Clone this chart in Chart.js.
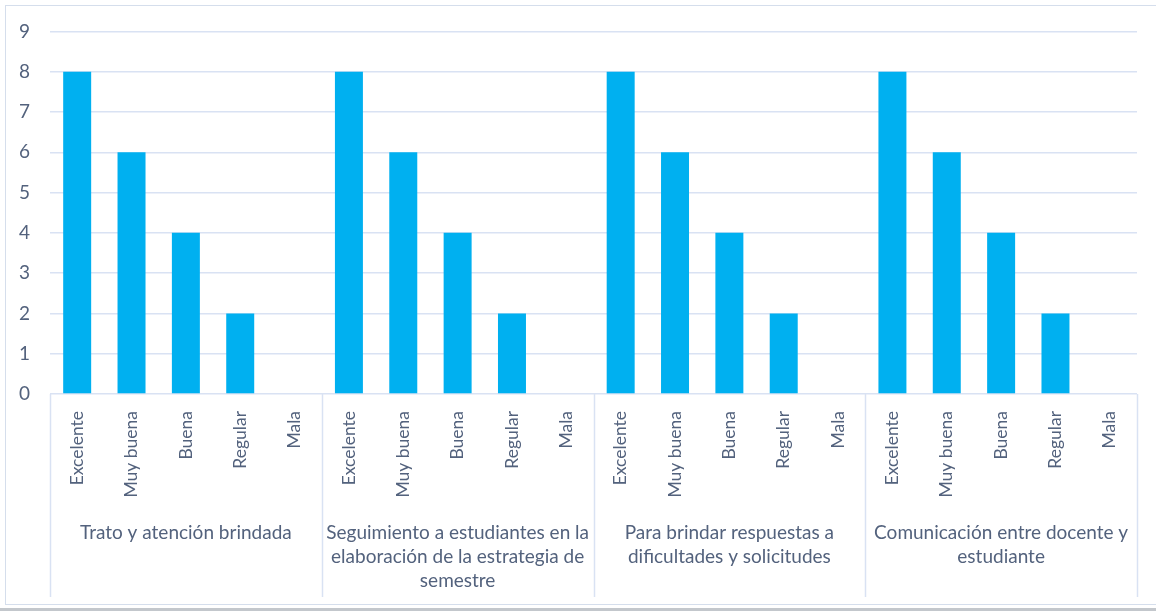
<!DOCTYPE html>
<html>
<head>
<meta charset="utf-8">
<script src="https://cdn.jsdelivr.net/npm/chart.js@4.4.1/dist/chart.umd.min.js"></script>
<style>
  html, body { margin: 0; padding: 0; background: #ffffff; }
  #wrap { position: relative; width: 1156px; height: 611px; overflow: hidden; background: #fff; }
  #frame { position: absolute; left: 5px; top: 5px; width: 1160px; height: 600px;
           border: 1px solid #d5deec; box-sizing: border-box; pointer-events: none; }
  #shadow { position: absolute; left: 0; top: 608px; width: 1156px; height: 3px; background: #c3c7cc; }
  canvas { position: absolute; left: 0; top: 0; }
</style>
</head>
<body>
<div id="wrap">
  <canvas id="c" width="1156" height="611"></canvas>
  <div id="frame"></div>
  <div id="shadow"></div>
</div>
<script>
// ---- data ----
const ratings = ["Excelente", "Muy buena", "Buena", "Regular", "Mala"];
const groups = [
  ["Trato y atención brindada"],
  ["Seguimiento a estudiantes en la", "elaboración de la estrategia de", "semestre"],
  ["Para brindar respuestas a", "dificultades y solicitudes"],
  ["Comunicación entre docente y", "estudiante"]
];
const tratoValues = [8, 6, 4, 2, 0];
const seguimientoValues = [8, 6, 4, 2, 0];
const respuestasValues = [8, 6, 4, 2, 0];
const comunicacionValues = [8, 6, 4, 2, 0];
const yTicks = [0, 1, 2, 3, 4, 5, 6, 7, 8, 9];

// ---- build ----
const labels = [];
groups.forEach(() => ratings.forEach(r => labels.push(r)));
const values = [].concat(tratoValues, seguimientoValues, respuestasValues, comunicacionValues);

const textColor = "#53627d";
const gridColor = "#d9e2f3";
const fontFamily = "Lato, 'Open Sans', sans-serif";

const separators = {
  id: "separators",
  afterDraw(chart) {
    const xs = chart.scales.x;
    const ctx = chart.ctx;
    const n = ratings.length;
    const positions = [xs.left];
    for (let g = 1; g < groups.length; g++) {
      positions.push((xs.getPixelForValue(g * n - 1) + xs.getPixelForValue(g * n)) / 2);
    }
    positions.push(xs.right);
    ctx.save();
    ctx.strokeStyle = gridColor;
    ctx.lineWidth = 1.5;
    positions.forEach(px => {
      ctx.beginPath();
      ctx.moveTo(Math.round(px) + 0.5, chart.chartArea.bottom);
      ctx.lineTo(Math.round(px) + 0.5, 597);
      ctx.stroke();
    });
    ctx.restore();
  }
};

new Chart(document.getElementById("c"), {
  type: "bar",
  data: {
    labels: labels,
    datasets: [{
      data: values,
      backgroundColor: "#00b0f0",
      borderWidth: 0,
      barPercentage: 0.515,
      categoryPercentage: 1.0,
      xAxisID: "x",
      yAxisID: "y"
    }]
  },
  options: {
    responsive: false,
    animation: false,
    devicePixelRatio: 1,
    layout: { padding: { left: 0, right: 19, top: 31, bottom: 0 } },
    plugins: { legend: { display: false }, tooltip: { enabled: false } },
    scales: {
      y: {
        min: 0, max: 9,
        afterBuildTicks(scale) { scale.ticks = yTicks.map(v => ({ value: v })); },
        afterFit(scale) { scale.width = 50; },
        grid: { color: gridColor, lineWidth: 1.5, drawTicks: false },
        border: { display: false },
        ticks: { color: textColor, padding: 20, font: { family: fontFamily, size: 19 } }
      },
      x: {
        position: "bottom",
        offset: true,
        afterFit(scale) { scale.height = 115; },
        grid: { display: false },
        border: { display: false },
        ticks: {
          color: textColor, padding: 9, autoSkip: false,
          minRotation: 90, maxRotation: 90,
          font: { family: fontFamily, size: 17.5 }
        }
      },
      x2: {
        type: "category",
        labels: groups,
        position: "bottom",
        offset: true,
        afterFit(scale) { scale.height = 102; },
        grid: { display: false },
        border: { display: false },
        ticks: {
          color: textColor, padding: 4, autoSkip: false,
          minRotation: 0, maxRotation: 0,
          font: { family: fontFamily, size: 19, lineHeight: 1.27 }
        }
      }
    }
  },
  plugins: [separators]
});
</script>
</body>
</html>
